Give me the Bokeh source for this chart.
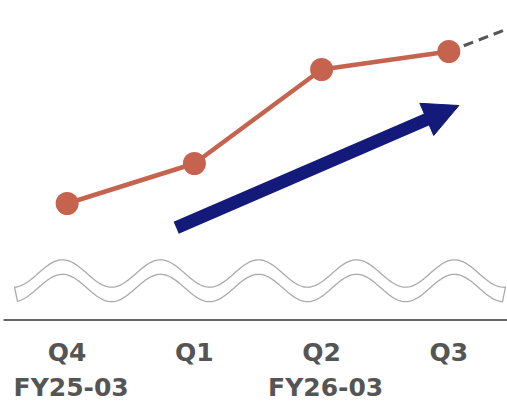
import numpy as np
from bokeh.plotting import figure
from bokeh.models import Range1d, ColumnDataSource
from bokeh.core.properties import value
from bokeh.embed import file_html
from bokeh.resources import INLINE

# --- data ---------------------------------------------------------------
quarters = ["Q4", "Q1", "Q2", "Q3"]
fiscal_years = ["FY25-03", "", "FY26-03", ""]
values = [199, 239, 333, 351]
trend_next = 400          # dashed continuation towards the next quarter

W, H = 507, 402
X0, X1 = -0.524, 3.461
Y0, Y1 = 0, 402
sx = W / (X1 - X0)        # px per x unit
sy = H / (Y1 - Y0)        # px per y unit

LINE_COLOR = "#C6634F"
ARROW_COLOR = "#141A7A"
TEXT_COLOR = "#555555"

p = figure(width=W, height=H, x_range=Range1d(X0, X1), y_range=Range1d(Y0, Y1),
           output_backend="svg", toolbar_location=None, min_border=0,
           background_fill_color="white", border_fill_color="white")
p.axis.visible = False
p.grid.visible = False
p.outline_line_color = None

xs = list(range(len(quarters)))

# dashed extension after the last quarter
p.line([xs[-1], xs[-1] + 1], [values[-1], trend_next], line_color="#555555",
       line_width=3, line_dash="10 6")

# main series
src = ColumnDataSource(dict(x=xs, y=values))
p.line("x", "y", source=src, line_color=LINE_COLOR, line_width=4.5)
p.scatter("x", "y", source=src, size=23, fill_color=LINE_COLOR, line_color=None)

# growth arrow (shaft + filled head), built in screen units
tail = np.array([0.857, 174.7])
tip = np.array([3.079, 297.0])
to_px = np.array([sx, sy])
d = (tip - tail) * to_px
u = d / np.hypot(*d)
n = np.array([-u[1], u[0]])
head_len, head_half, shaft_w = 35.0, 17.5, 13.0
base = tip * to_px - u * head_len
shaft_end = (base + u * 2) / to_px
p.segment(x0=[tail[0]], y0=[tail[1]], x1=[shaft_end[0]], y1=[shaft_end[1]],
          line_color=ARROW_COLOR, line_width=shaft_w, line_cap="butt")
c1 = (base + n * head_half) / to_px
c2 = (base - n * head_half) / to_px
p.patch([c1[0], tip[0], c2[0]], [c1[1], tip[1], c2[1]],
        fill_color=ARROW_COLOR, line_color=ARROW_COLOR, line_width=1)

# axis-break wave band
def px_x(v):
    return (v / sx) + X0

def px_y(v):
    return Y1 - v / sy

period, amp, phase_px = 98.0, 13.7, 62.0
def wave(xp, center):
    return center - amp * np.cos(2 * np.pi * (xp - phase_px) / period)

xu = np.linspace(14, 505, 300)
xl = np.linspace(17, 502, 300)
yu = wave(xu, 273.0)
yl = wave(xl, 287.5)
band_x = np.concatenate([xu, xl[::-1]])
band_y = np.concatenate([yu, yl[::-1]])
p.patch(px_x(band_x), px_y(band_y), fill_color="white",
        line_color="#AAAAAA", line_width=1.3)

# baseline
p.segment(x0=[px_x(3)], y0=[px_y(319.5)], x1=[px_x(507)], y1=[px_y(319.5)],
          line_color="#666666", line_width=2)

# category labels
p.text(x=xs, y=[px_y(351.5)] * 4, text=quarters, text_align="center",
       text_baseline="alphabetic", text_font=value("DejaVu Sans"),
       text_font_style="bold", text_font_size="25px", text_color=TEXT_COLOR)
p.text(x=xs, y=[px_y(386.5)] * 4, text=fiscal_years, text_align="center",
       text_baseline="alphabetic", text_font=value("DejaVu Sans"),
       text_font_style="bold", text_font_size="25px", text_color=TEXT_COLOR,
       x_offset=4)

open("out.html", "w").write(file_html(p, INLINE))
